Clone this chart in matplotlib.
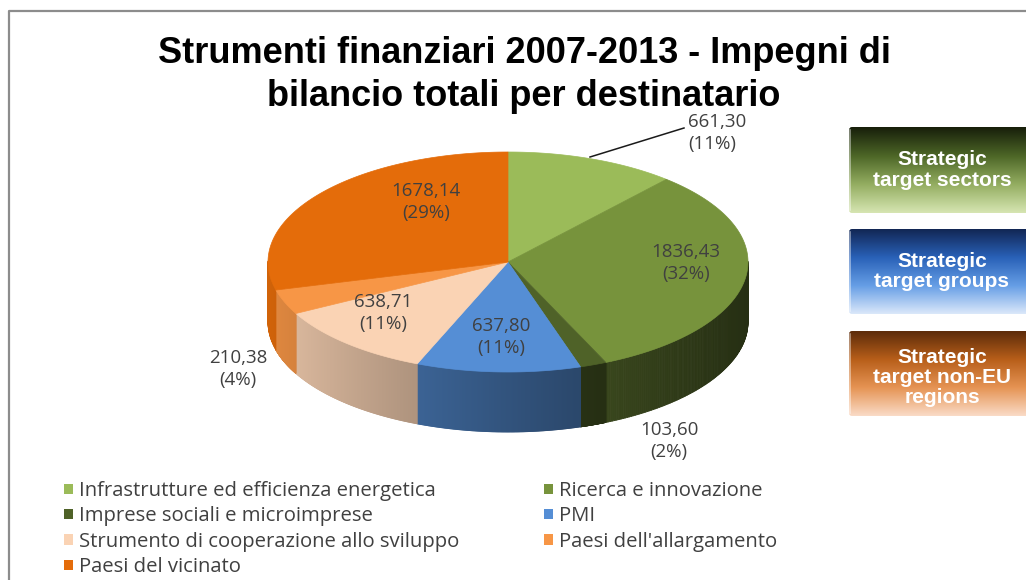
import numpy as np
import matplotlib
matplotlib.use('Agg')
import matplotlib.pyplot as plt
from matplotlib.patches import Patch, FancyBboxPatch, Polygon
from matplotlib.collections import PolyCollection
import matplotlib.colors as mcolors

# ---------------- data ----------------
categories = ["Infrastrutture ed efficienza energetica", "Ricerca e innovazione",
              "Imprese sociali e microimprese", "PMI",
              "Strumento di cooperazione allo sviluppo", "Paesi dell'allargamento",
              "Paesi del vicinato"]
values = [661.30, 1836.43, 103.60, 637.80, 638.71, 210.38, 1678.14]
value_labels = ["661,30", "1836,43", "103,60", "637,80", "638,71", "210,38", "1678,14"]
slice_colors = ["#9BBB59", "#77933C", "#4F6228", "#558ED5", "#FAD3B4", "#F79646", "#E46C0A"]
title_text = "Strumenti finanziari 2007-2013 - Impegni di\nbilancio totali per destinatario"
box_texts = ["Strategic\ntarget sectors", "Strategic\ntarget groups", "Strategic\ntarget non-EU\nregions"]

# ---------------- layout ----------------
W, H = 1026, 580
CX, CY, RX, RY, DEPTH = 508, 262, 240, 110, 60
LABEL_XY = [(688, 133), (686, 263), (669, 441), (501, 337), (383, 313), (238, 369), (426, 202)]
LABEL_HA = ["left", "center", "center", "center", "center", "center", "center"]
LEADER = [(590, 157), (684, 128)]
TXT = "#404040"
LABEL_FONT = 'Open Sans'

fig = plt.figure(figsize=(W / 100, H / 100), dpi=100)
ax = fig.add_axes([0, 0, 1, 1])
ax.set_xlim(0, W)
ax.set_ylim(H, 0)
ax.axis('off')

# frame
ax.plot([9, 9, W + 5], [H + 5, 11, 11], color="#8C8C8C", lw=1.6, solid_capstyle='butt')


def pt(t):
    return CX + RX * np.cos(t), CY - RY * np.sin(t)


total = float(np.sum(values))
fracs = np.array(values) / total
start = np.pi / 2
bounds = [start]
for f in fracs:
    bounds.append(bounds[-1] - f * 2 * np.pi)


def shade(color, x):
    u = np.clip((x - (CX - RX)) / (2 * RX), 0, 1)
    fac = 0.92 - 0.6 * u ** 0.85
    rgb = np.array(mcolors.to_rgb(color))
    return tuple(np.clip(rgb * fac, 0, 1))


# side walls (front visible half)
polys, pcols = [], []
for i in range(len(values)):
    a0, a1 = bounds[i], bounds[i + 1]
    ts = np.linspace(a1, a0, 200)
    tm = np.mod(ts, 2 * np.pi)
    vis = (tm > np.pi) & (tm < 2 * np.pi)
    for j in range(len(ts) - 1):
        if vis[j] or vis[j + 1]:
            x0, y0 = pt(ts[j])
            x1, y1 = pt(ts[j + 1])
            polys.append([(x0, y0), (x1, y1), (x1, y1 + DEPTH), (x0, y0 + DEPTH)])
            pcols.append(shade(slice_colors[i], 0.5 * (x0 + x1)))
ax.add_collection(PolyCollection(polys, facecolors=pcols, edgecolors=pcols, linewidths=0.6,
                                 antialiased=True, zorder=2))

# top faces
for i in range(len(values)):
    a0, a1 = bounds[i], bounds[i + 1]
    ts = np.linspace(a0, a1, 200)
    xs, ys = pt(ts)
    verts = [(CX, CY)] + list(zip(xs, ys))
    ax.add_patch(Polygon(verts, closed=True, facecolor=slice_colors[i],
                         edgecolor=slice_colors[i], lw=0.5, zorder=3))

# labels
for i in range(len(values)):
    pct = int(round(fracs[i] * 100))
    ax.text(LABEL_XY[i][0], LABEL_XY[i][1], f"{value_labels[i]}\n({pct}%)",
            ha=LABEL_HA[i], va='center', fontsize=13.5, color=TXT, family=LABEL_FONT,
            linespacing=1.25, zorder=5)
ax.plot([LEADER[0][0], LEADER[1][0]], [LEADER[0][1], LEADER[1][1]], color="#1a1a1a", lw=1.1, zorder=4)

# title
ax.text(524, 75, title_text, ha='center', va='center', fontsize=26, fontweight='bold',
        family='Liberation Sans', color='black', linespacing=1.32)

# legend (column-major order to mimic row-wise layout)
order = [0, 2, 4, 6, 1, 3, 5]
handles = [Patch(facecolor=slice_colors[k], edgecolor='none') for k in order]
labels = [categories[k] for k in order]
ax.legend(handles, labels, ncol=2, loc='upper left', bbox_to_anchor=(64, 481),
          bbox_transform=ax.transData, frameon=False, prop={'family': LABEL_FONT, 'size': 14.6},
          labelcolor=TXT, handlelength=0.42, handleheight=0.42, handletextpad=0.3,
          labelspacing=0.27, columnspacing=4.2, borderpad=0, borderaxespad=0)

# strategic boxes
box_specs = [
    (127, 213, [(0.09, 0.12, 0.04), (0.30, 0.40, 0.15), (0.58, 0.68, 0.38), (0.84, 0.90, 0.70)]),
    (229, 314, [(0.07, 0.15, 0.33), (0.16, 0.38, 0.72), (0.40, 0.62, 0.90), (0.86, 0.91, 0.98)]),
    (331, 416, [(0.36, 0.17, 0.04), (0.72, 0.37, 0.10), (0.90, 0.58, 0.33), (0.98, 0.86, 0.78)]),
]
for k, (y0, y1, stops) in enumerate(box_specs):
    cmap = mcolors.LinearSegmentedColormap.from_list(f"g{k}", stops)
    grad = np.linspace(0, 1, 256).reshape(-1, 1)
    x0, x1 = 849, 1040
    im = ax.imshow(grad, cmap=cmap, extent=(x0, x1, y1, y0), aspect='auto', zorder=2,
                   interpolation='bilinear')
    clip = FancyBboxPatch((x0, y0), x1 - x0, y1 - y0, boxstyle="round,pad=0,rounding_size=3",
                          transform=ax.transData, facecolor='none', edgecolor='none')
    ax.add_patch(clip)
    im.set_clip_path(clip)
    ax.plot([x0 + 1, x0 + 1], [y0 + 3, y1 - 3], color=(1, 1, 1, 0.5), lw=1.2, zorder=3)
    nlines = box_texts[k].count("\n") + 1
    cy = (y0 + y1) / 2 - (0 if nlines == 2 else -4)
    ax.text(942, cy, box_texts[k], ha='center', va='center', fontsize=15, fontweight='bold',
            family='Liberation Sans', color='white', linespacing=1.08, zorder=4)

ax.set_xlim(0, W)
ax.set_ylim(H, 0)
fig.savefig("out.png", dpi=100)
